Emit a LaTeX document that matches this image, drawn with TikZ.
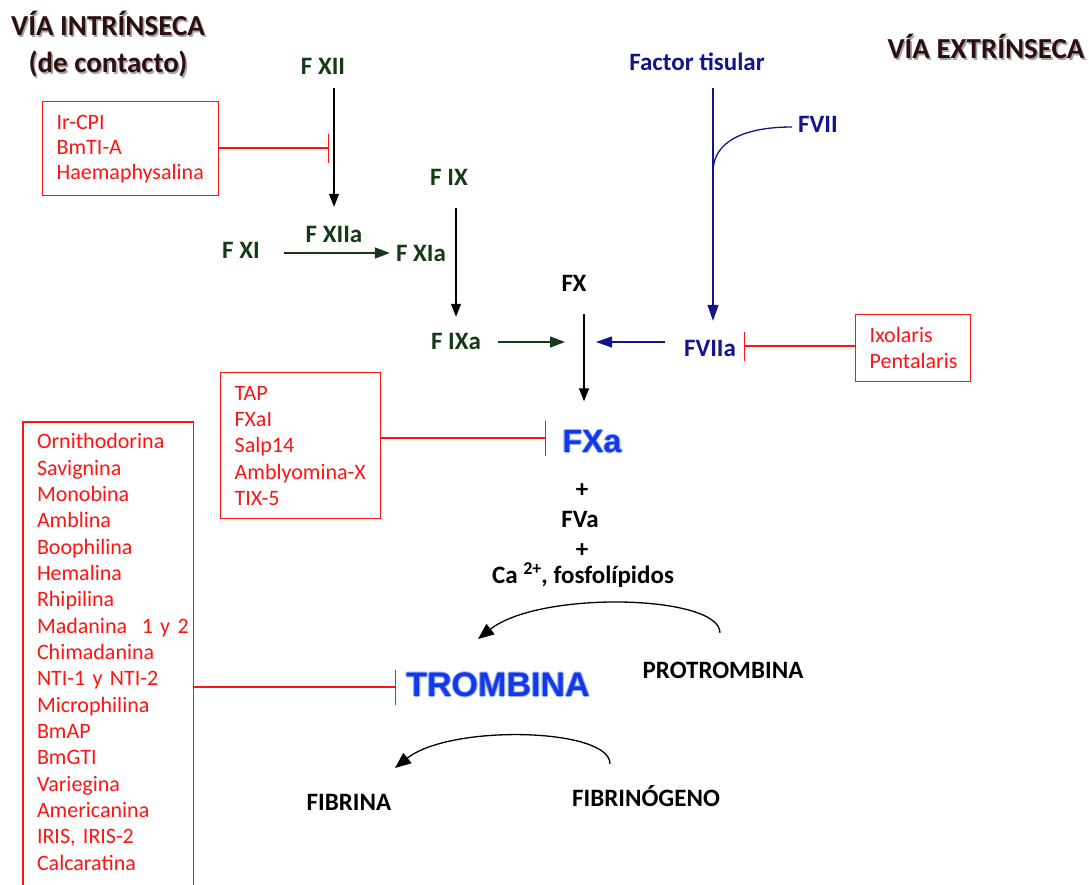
\documentclass[tikz,border=0pt]{standalone}
\usepackage{fontspec}
\setmainfont{Carlito}
\newfontfamily\arialf{Liberation Sans}
\usetikzlibrary{arrows.meta,calc}

\definecolor{fgreen}{RGB}{22,58,22}
\definecolor{fnavy}{RGB}{20,20,140}
\definecolor{inhred}{RGB}{255,20,20}
\definecolor{fxblue}{RGB}{20,55,235}
\definecolor{glowblue}{RGB}{150,180,245}
\definecolor{titlec}{RGB}{45,15,15}

% soft halo behind the two key products
\newcommand\glowed[1]{\leavevmode
  \rlap{\color{glowblue}\kern-1.2pt #1}%
  \rlap{\color{glowblue}\kern1.2pt #1}%
  \rlap{\color{glowblue}\raisebox{1.2pt}{#1}}%
  \rlap{\color{glowblue}\raisebox{-1.2pt}{#1}}#1}
% drop shadow for the pathway titles
\newcommand\shadowed[1]{\leavevmode
  \rlap{\color{black!35}\kern1.6pt\raisebox{-1.6pt}{#1}}#1}

\tikzset{
  lbl/.style={font=\bfseries\fontsize{25}{29}\selectfont, inner sep=0pt,
    text height=16pt, text depth=0pt},
  glbl/.style={lbl, text=fgreen},
  nlbl/.style={lbl, text=fnavy},
  klbl/.style={lbl, text=black},
  title/.style={font=\bfseries\fontsize{29}{33}\selectfont, inner sep=0pt,
    text=titlec, text height=19pt, text depth=4pt},
  bigblue/.style={font=\arialf\bfseries\fontsize{#1}{36}\selectfont, inner sep=0pt,
    text=fxblue, text height=23pt, text depth=0pt},
  bigblue/.default=32,
  redbox/.style={draw=inhred, line width=1.4pt},
  redlist/.style={text=inhred, align=left, inner xsep=14pt, inner ysep=0pt,
    font=\fontsize{22}{26.33}\selectfont},
  act/.style={draw=black, line width=1.3pt, -{Triangle[length=13pt,width=10pt]}},
  gact/.style={act, draw=fgreen, fill=fgreen, -{Triangle[length=15pt,width=11pt]}},
  nact/.style={act, draw=fnavy, fill=fnavy, -{Triangle[length=16pt,width=11pt]}},
  nline/.style={draw=fnavy, line width=1.3pt},
  curvact/.style={draw=black, line width=1.3pt, -{Triangle[length=16pt,width=13pt]}},
  inh/.style={draw=inhred, line width=1.4pt, -{Bar[width=#1,line width=1.4pt]}},
  inh/.default=30pt
}

\begin{document}
\begin{tikzpicture}[x=1pt,y=-1pt]
\useasboundingbox[fill=white] (0,0) rectangle (1089,884);

% pathway titles
\node[title] (vi1) at (108,28) {\shadowed{VÍA INTRÍNSECA}};
\node[title] (vi2) at (108,65) {\shadowed{(de contacto)}};
\node[title] (ve)  at (986,51) {\shadowed{VÍA EXTRÍNSECA}};

% intrinsic pathway factors
\node[glbl] (fxii)  at (323,66)  {F XII};
\node[glbl] (fxiia) at (334,234) {F XIIa};
\node[glbl] (fxi)   at (241,250) {F XI};
\node[glbl] (fxia)  at (421,253) {F XIa};
\node[glbl] (fix)   at (449,177) {F IX};
\node[glbl] (fixa)  at (456,341) {F IXa};

% extrinsic pathway factors
\node[nlbl] (ft)    at (697,62)  {Factor tisular};
\node[nlbl] (fvii)  at (818,124) {FVII};
\node[nlbl] (fviia) at (710,348) {FVIIa};

% common pathway
\node[klbl] (fx)    at (574,283) {FX};
\node[bigblue] (fxa) at (592,441) {\glowed{FXa}};
\node[klbl] (plus1) at (582,489) {+};
\node[klbl] (fva)   at (580,519) {FVa};
\node[klbl] (plus2) at (582,549) {+};
\node[klbl] (ca)    at (583,575) {Ca \raisebox{9pt}{\fontsize{18}{18}\selectfont 2+}, fosfolípidos};
\node[bigblue=34] (tromb) at (498,685) {\glowed{TROMBINA}};
\node[klbl] (protr)    at (723,670) {PROTROMBINA};
\node[klbl] (fibrina)  at (349,802) {FIBRINA};
\node[klbl] (fibrinog) at (646,798) {FIBRINÓGENO};

% tick inhibitor lists
\node[redbox, redlist, anchor=north west, text width=148pt, minimum height=94pt]
  (box1) at (42,101) {Ir-CPI\\[-1.3pt]BmTI-A\\[-1.3pt]Haemaphysalina};
\node[redbox, redlist, anchor=north west, text width=132pt, minimum height=146pt]
  (box2) at (220,372) {TAP\\FXaI\\Salp14\\Amblyomina-X\\TIX-5};
\node[redbox, redlist, anchor=north west, text width=87pt, minimum height=67pt]
  (box3) at (855,314) {Ixolaris\\Pentalaris};
\node[redlist, text width=142pt, minimum width=170pt, minimum height=460pt]
  (list4) at (108,652) {Ornithodorina\\Savignina\\Monobina\\Amblina\\Boophilina\\Hemalina\\Rhipilina\\\mbox{Madanina\ \ 1 y 2}\\Chimadanina\\NTI-1 y NTI-2\\Microphilina\\BmAP\\BmGTI\\Variegina\\Americanina\\IRIS, IRIS-2\\Calcaratina};
\draw[redbox] ($(list4.south west)+(0,30)$) -- (list4.north west)
  -- (list4.north east) -- ($(list4.south east)+(0,30)$);

% junction points on the activation lines
\coordinate (fxjoin) at (584,342);
\coordinate (tfjoin) at (713,172);

% intrinsic cascade
\draw[act, shorten <=14pt, shorten >=19pt] (fxii.south -| fxiia) -- (fxiia.north);
\draw[gact, shorten <=24pt, shorten >=6pt] (fxi.east |- fxia.center) -- (fxia.west);
\draw[act, shorten <=23pt, shorten >=16pt] (fix.south -| fixa) -- (fixa.north);
\draw[gact, shorten <=17pt, shorten >=19pt] (fixa.east |- fxjoin) -- (fxjoin);

% extrinsic cascade
\draw[nact, shorten <=18pt, shorten >=19pt] (ft.south -| tfjoin) -- (fviia.north -| tfjoin);
\draw[nline, shorten <=6pt] (fvii.west |- 0,127) .. controls +(-55,0) and +(0,-30) .. (tfjoin);
\draw[nact, shorten <=19pt, shorten >=12pt] (fviia.west |- fxjoin) -- (fxjoin);

% common pathway
\draw[act, shorten <=23pt, shorten >=28pt] (fx.south -| fxjoin) -- (fxa.north -| fxjoin);

% conversions
\coordinate (ptip) at (478,639);
\coordinate (ftip) at (395,768);
\draw[curvact] ($(protr.north)+(-3,-29)$) .. controls +(0,-38) and +(62,-49) .. (ptip);
\draw[curvact] ($(fibrinog.north)+(-36,-26)$) .. controls +(0,-36) and +(55,-44) .. (ftip);

% inhibitions
\coordinate (barA) at (329,148);
\coordinate (barB) at (546,438);
\coordinate (barC) at (744,346);
\coordinate (barD) at (396,687);
\draw[inh=29pt] (box1.east |- barA) -- (barA);
\draw[inh=35pt] (box2.east |- barB) -- (barB);
\draw[inh=29pt] (box3.west |- barC) -- (barC);
\draw[inh=35pt] (list4.east |- barD) -- (barD);
\end{tikzpicture}
\end{document}
